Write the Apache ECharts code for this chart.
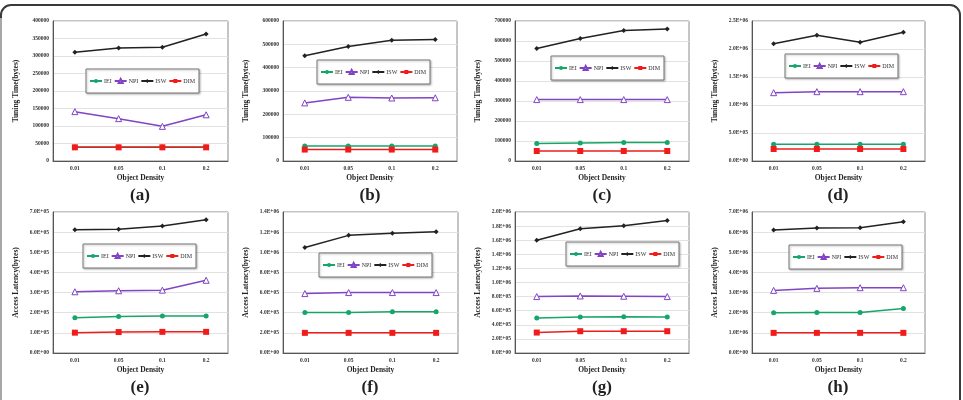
<!DOCTYPE html>
<html><head><meta charset="utf-8">
<script src="https://cdn.jsdelivr.net/npm/echarts@6/dist/echarts.min.js"></script>
<style>html,body{margin:0;padding:0;background:#fff}#c{width:963px;height:400px}</style>
</head><body><div id="c"></div>
<script>
// ---------- data ----------
const categories = ['0.01', '0.05', '0.1', '0.2'];
const seriesNames = ['IEI', 'NPI', 'ISW', 'DIM'];
const panelLabels = ['(a)', '(b)', '(c)', '(d)', '(e)', '(f)', '(g)', '(h)'];
const yTitles = ['Tuning Time(bytes)', 'Tuning Time(bytes)', 'Tuning Time(bytes)', 'Tuning Time(bytes)',
  'Access Latency(bytes)', 'Access Latency(bytes)', 'Access Latency(bytes)', 'Access Latency(bytes)'];
const xTitle = 'Object Density';
const yMax = [400000, 600000, 700000, 2500000, 700000, 1400000, 2000000, 7000000];
const yInterval = [50000, 100000, 100000, 500000, 100000, 200000, 200000, 1000000];
const ySci = [false, false, false, true, true, true, true, true];

// (a) Tuning time
const a_IEI = [40000, 40000, 40000, 40000];
const a_NPI = [141000, 121000, 99000, 132000];
const a_ISW = [311000, 323000, 325000, 363000];
const a_DIM = [39000, 39000, 39000, 39000];
// (b)
const b_IEI = [64000, 64000, 64000, 64000];
const b_NPI = [249000, 273000, 270000, 271000];
const b_ISW = [451000, 491000, 517000, 521000];
const b_DIM = [49000, 49000, 49000, 49000];
// (c)
const c_IEI = [87000, 90000, 92000, 92000];
const c_NPI = [307000, 307000, 307000, 307000];
const c_ISW = [562000, 613000, 652000, 660000];
const c_DIM = [50000, 50000, 50000, 50000];
// (d)
const d_IEI = [298000, 298000, 298000, 298000];
const d_NPI = [1220000, 1238000, 1238000, 1238000];
const d_ISW = [2095000, 2244000, 2119000, 2298000];
const d_DIM = [214000, 214000, 214000, 214000];
// (e) Access latency
const e_IEI = [175000, 181000, 184000, 184000];
const e_NPI = [304000, 309000, 312000, 361000];
const e_ISW = [612000, 614000, 630000, 662000];
const e_DIM = [101000, 104000, 105000, 105000];
// (f)
const f_IEI = [401000, 401000, 410000, 410000];
const f_NPI = [590000, 600000, 600000, 600000];
const f_ISW = [1048000, 1168000, 1188000, 1204000];
const f_DIM = [200000, 200000, 200000, 200000];
// (g)
const g_IEI = [495000, 509000, 514000, 510000];
const g_NPI = [800000, 809000, 805000, 800000];
const g_ISW = [1600000, 1762000, 1805000, 1881000];
const g_DIM = [290000, 309000, 309000, 309000];
// (h)
const h_IEI = [1995000, 2012000, 2012000, 2211000];
const h_NPI = [3109000, 3209000, 3242000, 3242000];
const h_ISW = [6102000, 6202000, 6219000, 6518000];
const h_DIM = [1000000, 1000000, 1000000, 1000000];

const panelData = [
  [a_IEI, a_NPI, a_ISW, a_DIM], [b_IEI, b_NPI, b_ISW, b_DIM],
  [c_IEI, c_NPI, c_ISW, c_DIM], [d_IEI, d_NPI, d_ISW, d_DIM],
  [e_IEI, e_NPI, e_ISW, e_DIM], [f_IEI, f_NPI, f_ISW, f_DIM],
  [g_IEI, g_NPI, g_ISW, g_DIM], [h_IEI, h_NPI, h_ISW, h_DIM]
];

// ---------- layout & style ----------
const gridPos = [
  {left: 53, top: 21, width: 175, height: 140}, {left: 283, top: 21, width: 174, height: 140},
  {left: 515, top: 21, width: 174, height: 140}, {left: 752, top: 21, width: 173, height: 140},
  {left: 53, top: 212, width: 175, height: 141}, {left: 283, top: 212, width: 175, height: 141},
  {left: 515, top: 212, width: 174, height: 141}, {left: 752, top: 212, width: 173, height: 141}
];
const legendPos = [[86, 69], [317, 60], [551, 56], [785, 54], [83, 244], [319, 253], [566, 242], [789, 245]];
const labelPos = [[140, 187], [370, 187], [602, 187], [838, 187], [140, 379], [370, 379], [602, 379], [838, 379]];
const colors = {IEI: '#17a56c', NPI: '#8044c4', ISW: '#222222', DIM: '#f01c1c'};
const symbols = {IEI: 'circle', NPI: 'triangle', ISW: 'diamond', DIM: 'rect'};
const symSize = {IEI: 5, NPI: 6, ISW: 5, DIM: 6};
const serif = '"Liberation Serif", "DejaVu Serif", serif';

function sci(v) {
  if (v === 0) return '0.0E+00';
  const e = Math.floor(Math.log10(v) + 1e-9);
  const m = v / Math.pow(10, e);
  return m.toFixed(1) + 'E+' + (e < 10 ? '0' + e : e);
}

const grid = [], xAxis = [], yAxis = [], series = [], legend = [], title = [];
gridPos.forEach((g, i) => {
  grid.push(Object.assign({show: true, borderColor: '#8a8a8a', borderWidth: 1, backgroundColor: '#fff'}, g));
  xAxis.push({
    type: 'category', gridIndex: i, data: categories, boundaryGap: true,
    name: xTitle, nameLocation: 'middle', nameGap: 13,
    nameTextStyle: {fontFamily: serif, fontWeight: 'bold', fontSize: 7.5, color: '#222'},
    axisLine: {lineStyle: {color: '#555'}}, axisTick: {show: false},
    axisLabel: {fontFamily: serif, fontWeight: 'bold', fontSize: 5.5, color: '#333', margin: 5}
  });
  yAxis.push({
    type: 'value', gridIndex: i, min: 0, max: yMax[i], interval: yInterval[i],
    name: yTitles[i], nameLocation: 'middle', nameGap: 33,
    nameTextStyle: {fontFamily: serif, fontWeight: 'bold', fontSize: 7.5, color: '#222'},
    axisLine: {show: true, lineStyle: {color: '#555'}}, axisTick: {show: false},
    splitLine: {lineStyle: {color: '#e2e2e2'}},
    axisLabel: {fontFamily: serif, fontWeight: 'bold', fontSize: 5.5, color: '#333', margin: 4,
      formatter: ySci[i] ? sci : (v => String(v))}
  });
  seriesNames.forEach((n, k) => {
    series.push({
      type: 'line', name: n, xAxisIndex: i, yAxisIndex: i, data: panelData[i][k],
      symbol: symbols[n], symbolSize: symSize[n], showAllSymbol: true,
      lineStyle: {color: colors[n], width: 1.5},
      itemStyle: {color: n === 'NPI' ? '#fff' : colors[n], borderColor: colors[n], borderWidth: n === 'NPI' ? 1 : 0},
      emphasis: {disabled: true}, animation: false, z: 2 + k
    });
  });
  legend.push({
    left: legendPos[i][0], top: legendPos[i][1], data: seriesNames,
    orient: 'horizontal', itemWidth: 12, itemHeight: 5, itemGap: 2,
    padding: [9, 4, 9, 3], backgroundColor: '#fff', borderColor: '#777', borderWidth: 1,
    shadowColor: 'rgba(0,0,0,0.25)', shadowBlur: 2, shadowOffsetX: 1, shadowOffsetY: 1,
    selectedMode: false,
    textStyle: {fontFamily: serif, fontSize: 6, color: '#333', padding: [0, 0, 0, -3]}
  });
  title.push({
    text: panelLabels[i], left: labelPos[i][0], top: labelPos[i][1], textAlign: 'center', padding: 0,
    textStyle: {fontFamily: serif, fontWeight: 'bold', fontSize: 17, color: '#222'}
  });
});

const chart = echarts.init(document.getElementById('c'), null, {renderer: 'canvas'});
chart.setOption({
  backgroundColor: '#fff', animation: false,
  grid, xAxis, yAxis, series, legend, title,
  graphic: [
    {type: 'rect', shape: {x: 1, y: 5, width: 959, height: 430, r: 10}, style: {fill: 'none', stroke: '#3a3a3a', lineWidth: 2}, z: 100},
    {type: 'line', shape: {x1: 1, y1: 18, x2: 1, y2: 400}, style: {stroke: '#a8a8a8', lineWidth: 2}, z: 101}
  ]
});
</script></body></html>
